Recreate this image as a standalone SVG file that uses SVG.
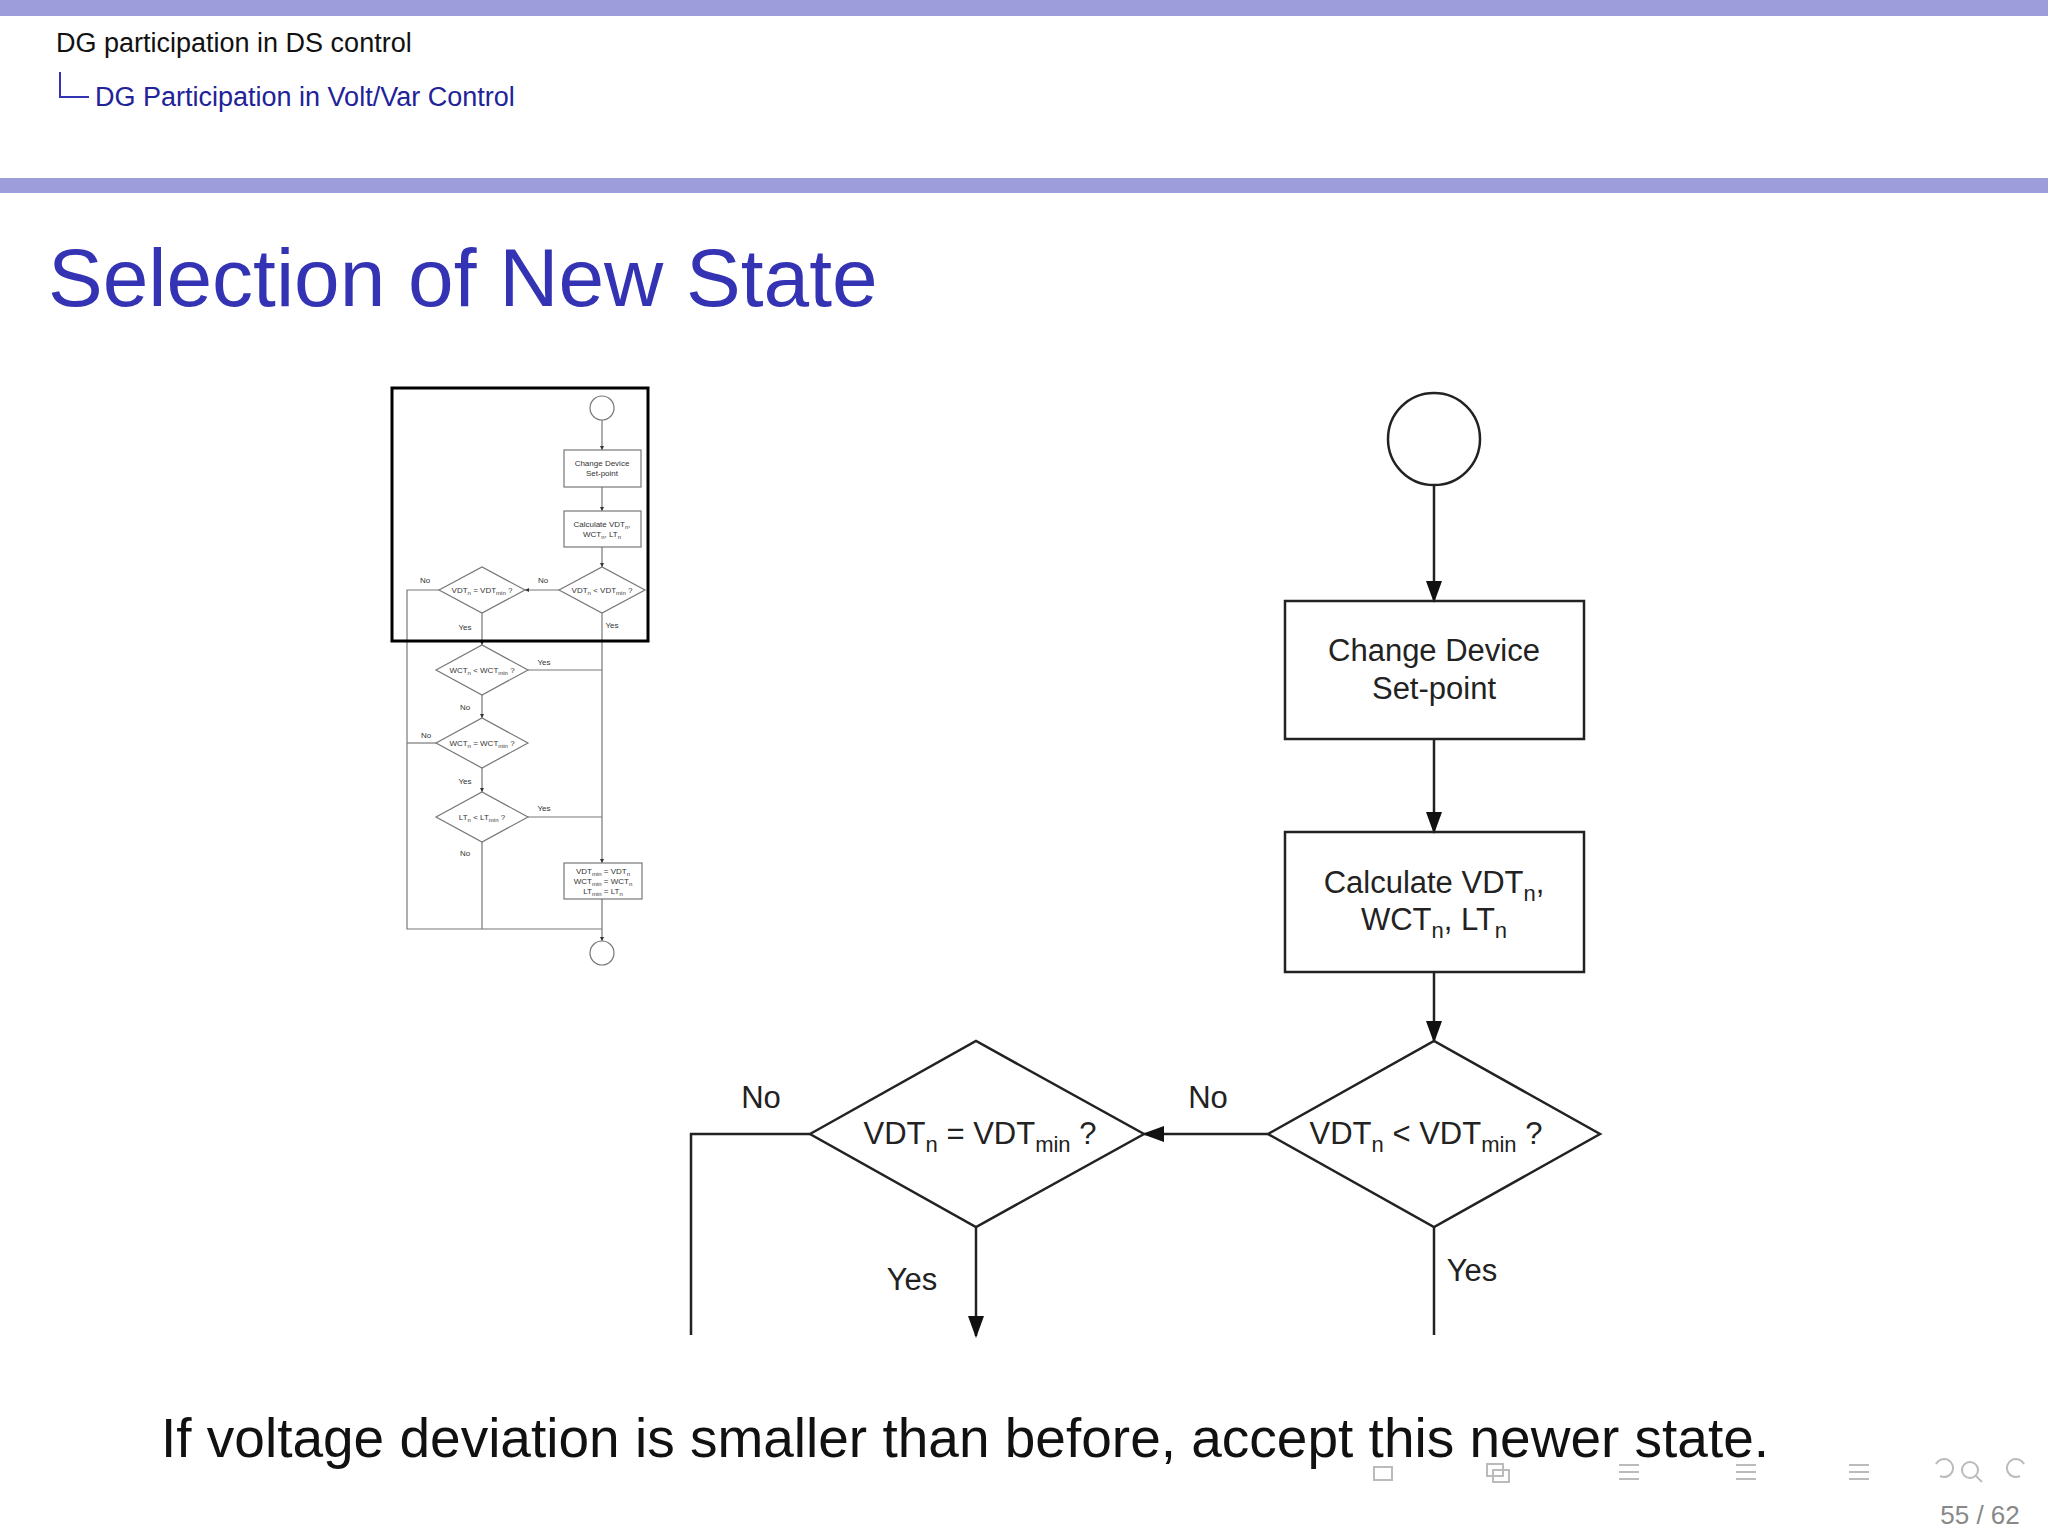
<svg xmlns="http://www.w3.org/2000/svg" width="2048" height="1536" viewBox="0 0 2048 1536">
<defs>
<marker id="ah" markerWidth="10" markerHeight="10" refX="9" refY="5" orient="auto" markerUnits="userSpaceOnUse"><path d="M0,0 L10,5 L0,10 z" fill="#111"/></marker>
<marker id="ahs" markerWidth="4" markerHeight="4" refX="4" refY="2" orient="auto" markerUnits="userSpaceOnUse"><path d="M0,0 L4,2 L0,4 z" fill="#333"/></marker>
<marker id="ahm" markerWidth="22" markerHeight="16" refX="20" refY="8" orient="auto" markerUnits="userSpaceOnUse"><path d="M0,0 L22,8 L0,16 z" fill="#111"/></marker>
</defs>
<style>
text{font-family:"Liberation Sans",Arial,sans-serif}
.m{fill:none;stroke:#222;stroke-width:2.5}
.ml{fill:none;stroke:#222;stroke-width:2.5}
.mt{font-size:31px;fill:#222;text-anchor:middle}
.sub{font-size:22px}
.s{fill:#fff;stroke:#777;stroke-width:1.2}
.sl{fill:none;stroke:#777;stroke-width:1.2}
.st{font-size:8px;fill:#333;text-anchor:middle}
.ss{font-size:6px}
</style>
<rect width="2048" height="1536" fill="#fff"/>
<rect x="0" y="0" width="2048" height="16" fill="#9d9ddb"/>
<rect x="0" y="178" width="2048" height="15" fill="#9d9ddb"/>
<text x="56" y="52" font-size="27" fill="#111">DG participation in DS control</text>
<path d="M60,72 V97 H89" fill="none" stroke="#3333b3" stroke-width="2"/>
<text x="95" y="106" font-size="27" fill="#222299">DG Participation in Volt/Var Control</text>
<text x="48" y="306" font-size="82" fill="#3333b3">Selection of New State</text>

<g id="thumbnail">
<g class="sl">
<line x1="602" y1="420" x2="602" y2="450" marker-end="url(#ahs)"/>
<line x1="602" y1="487" x2="602" y2="511" marker-end="url(#ahs)"/>
<line x1="602" y1="547" x2="602" y2="567" marker-end="url(#ahs)"/>
<line x1="559" y1="590" x2="525" y2="590" marker-end="url(#ahs)"/>
<polyline points="439,590 407,590 407,929 602,929"/>
<line x1="482" y1="613" x2="482" y2="645" marker-end="url(#ahs)"/>
<line x1="602" y1="613" x2="602" y2="863" marker-end="url(#ahs)"/>
<line x1="528" y1="670" x2="602" y2="670"/>
<line x1="482" y1="695" x2="482" y2="718" marker-end="url(#ahs)"/>
<line x1="436" y1="743" x2="407" y2="743"/>
<line x1="482" y1="768" x2="482" y2="792" marker-end="url(#ahs)"/>
<line x1="528" y1="817" x2="602" y2="817"/>
<line x1="482" y1="842" x2="482" y2="929"/>
<line x1="602" y1="899" x2="602" y2="941" marker-end="url(#ahs)"/>
</g>
<circle class="s" cx="602" cy="408" r="12"/>
<rect class="s" x="564" y="450" width="77" height="37"/>
<text class="st" x="602" y="466">Change Device</text><text class="st" x="602" y="476">Set-point</text>
<rect class="s" x="564" y="511" width="77" height="36"/>
<text class="st" x="602" y="527">Calculate VDT<tspan class="ss" dy="2">n</tspan><tspan dy="-2">,</tspan></text>
<text class="st" x="602" y="537">WCT<tspan class="ss" dy="2">n</tspan><tspan dy="-2">, LT</tspan><tspan class="ss" dy="2">n</tspan></text>
<polygon class="s" points="559,590 602,567 645,590 602,613"/>
<text class="st" x="602" y="593">VDT<tspan class="ss" dy="2">n</tspan><tspan dy="-2"> &lt; VDT</tspan><tspan class="ss" dy="2">min</tspan><tspan dy="-2"> ?</tspan></text>
<polygon class="s" points="439,590 482,567 525,590 482,613"/>
<text class="st" x="482" y="593">VDT<tspan class="ss" dy="2">n</tspan><tspan dy="-2"> = VDT</tspan><tspan class="ss" dy="2">min</tspan><tspan dy="-2"> ?</tspan></text>
<polygon class="s" points="436,670 482,645 528,670 482,695"/>
<text class="st" x="482" y="673">WCT<tspan class="ss" dy="2">n</tspan><tspan dy="-2"> &lt; WCT</tspan><tspan class="ss" dy="2">min</tspan><tspan dy="-2"> ?</tspan></text>
<polygon class="s" points="436,743 482,718 528,743 482,768"/>
<text class="st" x="482" y="746">WCT<tspan class="ss" dy="2">n</tspan><tspan dy="-2"> = WCT</tspan><tspan class="ss" dy="2">min</tspan><tspan dy="-2"> ?</tspan></text>
<polygon class="s" points="436,817 482,792 528,817 482,842"/>
<text class="st" x="482" y="820">LT<tspan class="ss" dy="2">n</tspan><tspan dy="-2"> &lt; LT</tspan><tspan class="ss" dy="2">min</tspan><tspan dy="-2"> ?</tspan></text>
<rect class="s" x="564" y="863" width="78" height="36"/>
<text class="st" x="603" y="874">VDT<tspan class="ss" dy="2">min</tspan><tspan dy="-2"> = VDT</tspan><tspan class="ss" dy="2">n</tspan></text>
<text class="st" x="603" y="884">WCT<tspan class="ss" dy="2">min</tspan><tspan dy="-2"> = WCT</tspan><tspan class="ss" dy="2">n</tspan></text>
<text class="st" x="603" y="894">LT<tspan class="ss" dy="2">min</tspan><tspan dy="-2"> = LT</tspan><tspan class="ss" dy="2">n</tspan></text>
<circle class="s" cx="602" cy="953" r="12"/>
<g class="st">
<text x="425" y="583">No</text><text x="543" y="583">No</text>
<text x="465" y="630">Yes</text><text x="612" y="628">Yes</text>
<text x="544" y="665">Yes</text><text x="465" y="710">No</text>
<text x="426" y="738">No</text><text x="465" y="784">Yes</text>
<text x="544" y="811">Yes</text><text x="465" y="856">No</text>
</g>
<rect x="392" y="388" width="256" height="253" fill="none" stroke="#000" stroke-width="3"/>
</g>

<g id="connectors">
<line class="ml" x1="1434" y1="485" x2="1434" y2="601" marker-end="url(#ahm)"/>
<line class="ml" x1="1434" y1="739" x2="1434" y2="832" marker-end="url(#ahm)"/>
<line class="ml" x1="1434" y1="972" x2="1434" y2="1041" marker-end="url(#ahm)"/>
<line class="ml" x1="1268" y1="1134" x2="1144" y2="1134" marker-end="url(#ahm)"/>
<polyline class="ml" points="810,1134 691,1134 691,1335"/>
<line class="ml" x1="976" y1="1227" x2="976" y2="1336" marker-end="url(#ahm)"/>
<line class="ml" x1="1434" y1="1227" x2="1434" y2="1335"/>
</g>
<g id="start"><circle class="m" cx="1434" cy="439" r="46" fill="#fff"/></g>
<g id="box1"><rect class="m" x="1285" y="601" width="299" height="138"/>
<text class="mt" x="1434" y="661">Change Device</text><text class="mt" x="1434" y="699">Set-point</text></g>
<g id="box2"><rect class="m" x="1285" y="832" width="299" height="140"/>
<text class="mt" x="1434" y="893">Calculate VDT<tspan class="sub" dy="8">n</tspan><tspan dy="-8">,</tspan></text>
<text class="mt" x="1434" y="930">WCT<tspan class="sub" dy="8">n</tspan><tspan dy="-8">, LT</tspan><tspan class="sub" dy="8">n</tspan></text></g>
<g id="d1"><polygon class="m" points="1268,1134 1434,1041 1600,1134 1434,1227"/>
<text class="mt" x="1426" y="1144">VDT<tspan class="sub" dy="8">n</tspan><tspan dy="-8"> &lt; VDT</tspan><tspan class="sub" dy="8">min</tspan><tspan dy="-8"> ?</tspan></text></g>
<g id="d2"><polygon class="m" points="810,1134 976,1041 1144,1134 976,1227"/>
<text class="mt" x="980" y="1144">VDT<tspan class="sub" dy="8">n</tspan><tspan dy="-8"> = VDT</tspan><tspan class="sub" dy="8">min</tspan><tspan dy="-8"> ?</tspan></text></g>
<g id="labels" class="mt">
<text x="1208" y="1108">No</text><text x="761" y="1108">No</text>
<text x="912" y="1290">Yes</text><text x="1472" y="1281">Yes</text>
</g>
<text x="161" y="1457" font-size="55" fill="#111">If voltage deviation is smaller than before, accept this newer state.</text>
<g id="nav" fill="none" stroke="#bbb" stroke-width="2">
<rect x="1374" y="1467" width="18" height="13"/>
<rect x="1487" y="1464" width="16" height="12"/><rect x="1493" y="1470" width="16" height="12"/>
<path d="M1619,1465h20M1619,1472h20M1619,1479h20M1736,1465h20M1736,1472h20M1736,1479h20M1849,1465h20M1849,1472h20M1849,1479h20"/>
<circle cx="1970" cy="1470" r="8"/><path d="M1976,1476l6,6"/>
<path d="M1940,1476a9,9 0 1 0 -4,-12M2020,1476a9,9 0 1 1 4,-12"/>
</g>
<text x="1980" y="1524" font-size="26" fill="#888" text-anchor="middle">55 / 62</text>
</svg>
